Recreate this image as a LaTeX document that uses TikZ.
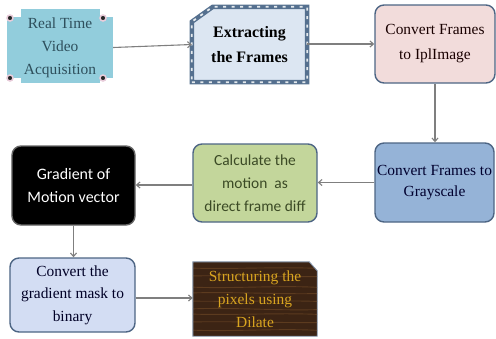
\documentclass[tikz,border=0pt]{standalone}
\usepackage{fontspec}
\setmainfont{Liberation Serif}
\newfontfamily\calib{Carlito}
\usetikzlibrary{arrows.meta,backgrounds}
\definecolor{cyanfill}{HTML}{92CDDC}
\definecolor{cyantext}{HTML}{2E4F5C}
\definecolor{filmfill}{HTML}{DCE6F2}
\definecolor{filmedge}{HTML}{55708F}
\definecolor{pinkfill}{HTML}{F2DCDB}
\definecolor{boxedge}{HTML}{4D6584}
\definecolor{bluefill}{HTML}{95B3D7}
\definecolor{greenfill}{HTML}{C3D69B}
\definecolor{greentext}{HTML}{3B4A25}
\definecolor{lavfill}{HTML}{D3DDF3}
\definecolor{woodfill}{HTML}{3C2414}
\definecolor{woodgrain}{HTML}{5C3B1F}
\definecolor{goldtext}{HTML}{D9A520}
\definecolor{arrowgray}{HTML}{7F7F7F}
\definecolor{halo}{HTML}{E8CCDA}
\begin{document}
\begin{tikzpicture}[x=1bp,y=-1bp,
  txt/.style={inner sep=0pt, align=center},
  rbox/.style={txt, draw=boxedge, line width=1.4bp, rounded corners=9bp},
  conn/.style={draw=arrowgray, line width=1.1bp, -{Straight Barb[length=3.5bp,width=6bp]}},
  dot/.style={circle, fill=black!85, inner sep=0pt, minimum size=6bp, draw=halo, line width=1.5bp}
]
\useasboundingbox (0,0) rectangle (496,338);

% nodes
\node[txt, minimum width=106bp, minimum height=39bp, text=cyantext,
      font=\fontsize{15.5}{23}\selectfont] (n1) at (60,47.5) {Real Time\\Video\\Acquisition};
\node[txt, minimum width=115bp, minimum height=75bp,
      font=\fontsize{16}{25}\selectfont\bfseries] (n2) at (249.5,44.5) {Extracting\\the Frames};
\node[rbox, fill=pinkfill, minimum width=120bp, minimum height=78bp, text=black!75!red!40!black,
      font=\fontsize{15.5}{25}\selectfont] (n3) at (435,44) {Convert Frames\\to IplImage};
\node[rbox, fill=bluefill, minimum width=119bp, minimum height=79bp, text=black!70!blue!60!black,
      font=\fontsize{15.5}{21}\selectfont] (n6) at (434.5,182.5) {Convert Frames to\\Grayscale};
\node[rbox, fill=greenfill, minimum width=124bp, minimum height=78bp, text=greentext,
      font=\calib\fontsize{15.5}{23}\selectfont] (n5) at (255,183) {Calculate the\\motion~ as\\direct frame diff};
\node[rbox, draw=black!60, fill=black, minimum width=123bp, minimum height=79bp, text=white,
      font=\calib\fontsize{16}{23}\selectfont] (n4) at (73.5,185.5) {Gradient of\\Motion vector};
\node[rbox, fill=lavfill, minimum width=125bp, minimum height=74bp, text=black!85!blue,
      font=\fontsize{15.5}{22.5}\selectfont] (n7) at (72.5,295) {Convert the\\gradient mask to\\binary};
\node[txt, minimum width=124bp, minimum height=74bp, text=goldtext,
      font=\fontsize{15.5}{23}\selectfont] (n8) at (255,299) {Structuring the\\pixels using\\Dilate};

% decorative shapes behind nodes
\begin{scope}[on background layer]
  % Real Time Video Acquisition: cross-shaped block with corner dots
  \fill[cyanfill] (21,9) rectangle (100,83);
  \fill[cyanfill] (n1.north west) rectangle (n1.south east);
  \node[dot] (d1) at (10,18) {};
  \node[dot] (d2) at (103,18) {};
  \node[dot] (d3) at (10,78) {};
  \node[dot] (d4) at (103,78) {};
  % film-strip box with cut corner
  \path[fill=filmfill, draw=filmedge, line width=4.5bp]
    (n2.south west) -- (n2.south east) -- (n2.north east)
    -- ([xshift=21bp]n2.north west) -- ([yshift=-15bp]n2.north west) -- cycle;
  \path[draw=white!85!filmedge, line width=1.8bp, dash pattern=on 3bp off 5.5bp]
    (n2.south west) -- (n2.south east) -- (n2.north east)
    -- ([xshift=21bp]n2.north west) -- ([yshift=-15bp]n2.north west) -- cycle;
  % wooden box with cut corner
  \path[fill=woodfill]
    (n8.south west) -- (n8.south east) -- ([yshift=-9bp]n8.north east)
    -- ([xshift=-8bp]n8.north east) -- (n8.north west) -- cycle;
  \begin{scope}
    \clip (n8.south west) -- (n8.south east) -- ([yshift=-9bp]n8.north east)
      -- ([xshift=-8bp]n8.north east) -- (n8.north west) -- cycle;
    \foreach \yy/\dd in {268/1.5,276/-1,287/2,293/-1.5,301/1,309/-2,314/1.5,322/-1,330/2}{
      \draw[woodgrain, line width=0.9bp] (190,\yy) .. controls (230,\yy+\dd) and (280,\yy-\dd) .. (320,\yy+0.5);
    }
  \end{scope}
  \path[draw=boxedge!70!white, line width=0.9bp]
    (n8.south west) -- (n8.south east) -- ([yshift=-9bp]n8.north east)
    -- ([xshift=-8bp]n8.north east) -- (n8.north west) -- cycle;
\end{scope}

% connectors
\draw[conn] (n1.east) -- (n2.west);
\draw[conn] (n2.east |- n3.west) -- (n3.west);
\draw[conn] (n3.south) -- (n3.south |- n6.north);
\draw[conn] (n6.west) -- (n6.west -| n5.east);
\draw[conn] ([yshift=-2bp]n5.west) -- ([yshift=-2bp]n5.west -| n4.east);
\draw[conn] (n4.south) -- (n4.south |- n7.north);
\draw[conn] ([yshift=-3bp]n7.east) -- ([yshift=-3bp]n7.east -| n8.west);
\end{tikzpicture}
\end{document}
